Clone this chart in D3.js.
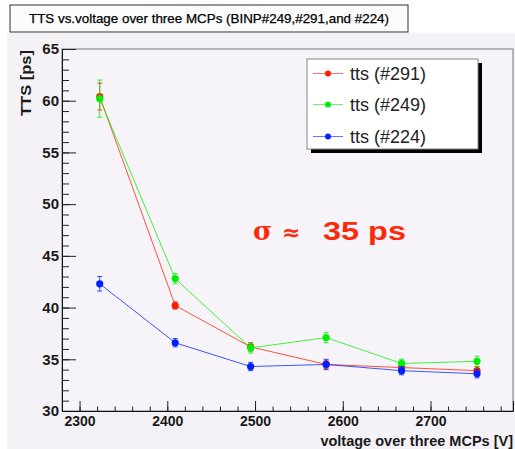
<!DOCTYPE html>
<html><head><meta charset="utf-8">
<script src="https://cdn.jsdelivr.net/npm/d3@7"></script>
<style>body{margin:0;background:#fff;} svg{display:block;font-family:"Liberation Sans",Arial,sans-serif;}</style>
</head><body>
<svg id="c" width="515" height="449"></svg>
<script>
const volts = [2323, 2409, 2495, 2581, 2667, 2753];
const tts291 = [60.4, 40.2, 36.2, 34.5, 34.2, 33.9];
const err291 = [1.3, 0.35, 0.4, 0.4, 0.4, 0.4];
const tts249 = [60.2, 42.8, 36.1, 37.1, 34.6, 34.8];
const err249 = [1.8, 0.5, 0.5, 0.5, 0.4, 0.5];
const tts224 = [42.3, 36.6, 34.3, 34.5, 33.9, 33.6];
const err224 = [0.7, 0.4, 0.4, 0.5, 0.4, 0.4];
const seriesNames = ["tts (#291)", "tts (#249)", "tts (#224)"];
const seriesColors = ["#ff1a00", "#00f000", "#0020ff"];
const yTicks = [30, 35, 40, 45, 50, 55, 60, 65];
const xTicks = [2300, 2400, 2500, 2600, 2700];

const svg = d3.select("#c");
svg.append("rect").attr("x", 7).attr("y", 33).attr("width", 508).attr("height", 416).attr("fill", "#f4f2f6");

const x = d3.scaleLinear().domain([2280, 2794]).range([62, 513]);
const y = d3.scaleLinear().domain([30, 65]).range([411, 49]);

svg.append("rect").attr("x", 62).attr("y", 49).attr("width", 451).attr("height", 362)
  .attr("fill", "#f6f4f8").attr("stroke", "#777").attr("stroke-width", 1);

const yMinor = d3.range(30, 65.01, 1);
svg.append("g").attr("transform", "translate(62,0)")
  .call(d3.axisLeft(y).tickValues(yMinor).tickSize(-7).tickFormat(""))
  .call(g => g.select(".domain").remove())
  .call(g => g.selectAll("line").attr("stroke", "#222"));
svg.append("g").attr("transform", "translate(62,0)")
  .call(d3.axisLeft(y).tickValues(yTicks).tickSize(-14).tickPadding(3).tickFormat(d3.format("d")))
  .call(g => g.select(".domain").attr("stroke", "#111"))
  .call(g => g.selectAll("line").attr("stroke", "#222"))
  .call(g => g.selectAll("text").attr("font-size", 15).attr("font-weight", "bold")
    .attr("font-family", "'Liberation Sans',Arial,sans-serif").attr("fill", "#1a1a1a"));

const xMinor = d3.range(2280, 2794, 20);
svg.append("g").attr("transform", "translate(0,411)")
  .call(d3.axisBottom(x).tickValues(xMinor).tickSize(-4.5).tickFormat(""))
  .call(g => g.select(".domain").remove())
  .call(g => g.selectAll("line").attr("stroke", "#222"));
svg.append("g").attr("transform", "translate(0,411)")
  .call(d3.axisBottom(x).tickValues(xTicks).tickSize(-10).tickPadding(5).tickFormat(d3.format("d")))
  .call(g => g.select(".domain").attr("stroke", "#111"))
  .call(g => g.selectAll("line").attr("stroke", "#222"))
  .call(g => g.selectAll("text").attr("font-size", 14).attr("font-weight", "bold")
    .attr("font-family", "'Liberation Sans',Arial,sans-serif").attr("fill", "#1a1a1a"));

svg.append("text").attr("x", 513).attr("y", 446).attr("text-anchor", "end")
  .attr("font-size", 14.5).attr("font-weight", "bold").attr("fill", "#1a1a1a")
  .text("voltage over three MCPs [V]");
svg.append("text").attr("transform", "translate(31,50) rotate(-90)").attr("text-anchor", "end")
  .attr("font-size", 15).attr("font-weight", "bold").attr("fill", "#1a1a1a")
  .attr("textLength", 66).attr("lengthAdjust", "spacingAndGlyphs")
  .text("TTS [ps]");

const series = [
  {vals: tts291, errs: err291},
  {vals: tts249, errs: err249},
  {vals: tts224, errs: err224}
];
const line = d3.line().x(d => x(d.v)).y(d => y(d.t));
series.forEach((s, i) => {
  const col = seriesColors[i];
  const pts = volts.map((v, j) => ({v, t: s.vals[j], e: s.errs[j]}));
  const g = svg.append("g");
  g.append("path").datum(pts).attr("d", line).attr("fill", "none")
    .attr("stroke", col).attr("stroke-width", 1).attr("stroke-opacity", 0.75);
  const eb = g.selectAll(".eb").data(pts).join("g");
  eb.append("line").attr("x1", d => x(d.v)).attr("x2", d => x(d.v))
    .attr("y1", d => y(d.t - d.e)).attr("y2", d => y(d.t + d.e)).attr("stroke", col).attr("stroke-opacity", 0.8);
  eb.append("line").attr("x1", d => x(d.v) - 2.5).attr("x2", d => x(d.v) + 2.5)
    .attr("y1", d => y(d.t + d.e)).attr("y2", d => y(d.t + d.e)).attr("stroke", col).attr("stroke-opacity", 0.8);
  eb.append("line").attr("x1", d => x(d.v) - 2.5).attr("x2", d => x(d.v) + 2.5)
    .attr("y1", d => y(d.t - d.e)).attr("y2", d => y(d.t - d.e)).attr("stroke", col).attr("stroke-opacity", 0.8);
  g.selectAll("circle").data(pts).join("circle")
    .attr("cx", d => x(d.v)).attr("cy", d => y(d.t)).attr("r", 3.6).attr("fill", col);
});

svg.append("rect").attr("x", 311).attr("y", 63).attr("width", 171).attr("height", 90).attr("fill", "#000");
svg.append("rect").attr("x", 307).attr("y", 59).attr("width", 171).attr("height", 90)
  .attr("fill", "#fff").attr("stroke", "#888").attr("stroke-width", 1);
const legY = [73.5, 104.5, 136.5];
seriesNames.forEach((n, i) => {
  const col = seriesColors[i];
  svg.append("line").attr("x1", 313).attr("x2", 343).attr("y1", legY[i]).attr("y2", legY[i])
    .attr("stroke", col).attr("stroke-opacity", 0.6);
  svg.append("circle").attr("cx", 328).attr("cy", legY[i]).attr("r", 3).attr("fill", col);
  svg.append("text").attr("x", 350).attr("y", legY[i] + 6.5).attr("font-size", 18).attr("fill", "#222").text(n);
});

const ann = svg.append("g").attr("fill", "#fa2a0a");
ann.append("text").attr("x", 253).attr("y", 240).attr("font-size", 26).attr("font-weight", "bold")
  .attr("font-family", "'DejaVu Serif','Liberation Serif',serif").text("σ");
ann.append("text").attr("x", 282).attr("y", 240).attr("font-size", 22).attr("font-weight", "bold")
  .attr("font-family", "'DejaVu Sans',sans-serif").text("≈");
ann.append("text").attr("x", 323).attr("y", 240).attr("font-size", 26).attr("font-weight", "bold")
  .attr("textLength", 83).attr("lengthAdjust", "spacingAndGlyphs").text("35 ps");

svg.append("rect").attr("x", 10).attr("y", 5).attr("width", 398).attr("height", 27)
  .attr("fill", "#fbfbfb").attr("stroke", "#333").attr("stroke-width", 1);
svg.append("text").attr("x", 209).attr("y", 23).attr("text-anchor", "middle")
  .attr("font-size", 13).attr("fill", "#000").attr("stroke", "#000").attr("stroke-width", 0.25)
  .attr("textLength", 360).attr("lengthAdjust", "spacingAndGlyphs")
  .text("TTS vs.voltage over three MCPs (BINP#249,#291,and #224)");
</script>
</body></html>
